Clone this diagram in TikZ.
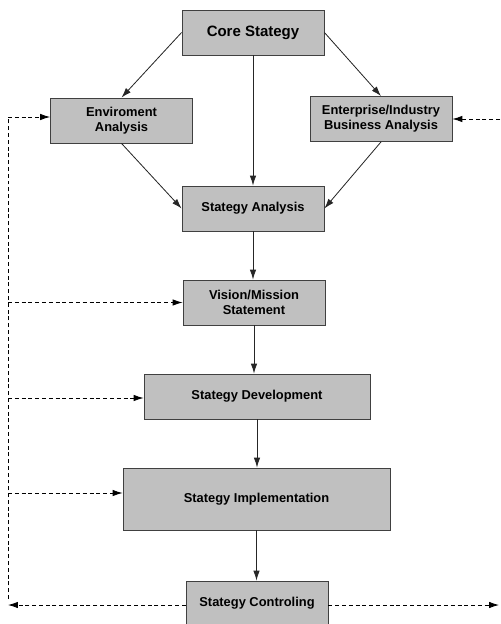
\documentclass[tikz,border=0pt]{standalone}
\usepackage{fontspec}
\setmainfont{Liberation Sans}
\usetikzlibrary{arrows.meta}

\definecolor{boxgray}{RGB}{192,192,192}
\definecolor{edgegray}{RGB}{64,64,64}

\tikzset{
  stagebox/.style={draw=edgegray, fill=boxgray, inner sep=0pt, align=center,
    line width=0.7pt, minimum width=4.26cm, minimum height=1.35cm,
    font=\fontsize{11}{13}\selectfont\bfseries},
  flow/.style={-{Latex[length=8.5pt,width=5.5pt]}, draw=black!85, line width=0.7pt},
  feedback/.style={-{Latex[length=8.5pt,width=5.5pt]}, line width=0.7pt,
    dash pattern=on 3.4pt off 2.4pt},
  feedline/.style={line width=0.7pt, dash pattern=on 3.4pt off 2.4pt}
}

\begin{document}
\begin{tikzpicture}[x=0.03cm,y=-0.03cm]
    \useasboundingbox (0,0) rectangle (500,624);

    % Top part
    \node[stagebox, font=\fontsize{12.8}{15}\selectfont\bfseries] (core) at (253,32.5) {Core Stategy};
    \node[stagebox] (env) at (121.5,120.5) {Enviroment\\Analysis};
    \node[stagebox] (ent) at (381,119) {Enterprise/Industry\\Business Analysis};
    \node[stagebox] (ana) at (253,208.5) {Stategy Analysis};

    % Main chain
    \node[stagebox] (vis) at (254,302.5) {Vision/Mission\\Statement};
    \node[stagebox, minimum width=6.78cm] (dev) at (257,396.5) {Stategy Development};
    \node[stagebox, minimum width=8.01cm, minimum height=1.86cm] (impl) at (256.5,499) {Stategy Implementation};
    \node[stagebox] (ctrl) at (257,603.5) {Stategy Controling};

    % Solid arrows
    \draw[flow] (core.west) -- (env.north);
    \draw[flow] (core.east) -- (ent.north);
    \draw[flow] (core.south) -- (core.south |- ana.north);
    \draw[flow] (env.south) -- (ana.west);
    \draw[flow] (ent.south) -- (ana.east);
    \draw[flow] (ana.south) -- (ana.south |- vis.north);
    \draw[flow] (vis.south) -- (vis.south |- dev.north);
    \draw[flow] (dev.south) -- (dev.south |- impl.north);
    \draw[flow] (impl.south) -- (impl.south |- ctrl.north);

    % Feedback loop, left side
    \coordinate (lt) at (8,117);
    \coordinate (ld) at (8,398);
    \coordinate (li) at (8,493);
    \coordinate (lc) at (8,599);
    \coordinate (lb) at (8,605);
    \draw[feedline] (lc) -- (lt);
    \draw[feedback] (lt) -- (env.west |- lt);
    \draw[feedback] (lt |- vis.west) -- (vis.west);
    \draw[feedback] (ld) -- (dev.west |- ld);
    \draw[feedback] (li) -- (impl.west |- li);
    \draw[feedback] (ctrl.west |- lb) -- (lb);

    % Feedback loop, right side
    \coordinate (rt) at (500,119);
    \coordinate (rb) at (499,605);
    \draw[feedback] (rt) -- (ent.east);
    \draw[feedback] (ctrl.east |- rb) -- (rb);
\end{tikzpicture}
\end{document}
